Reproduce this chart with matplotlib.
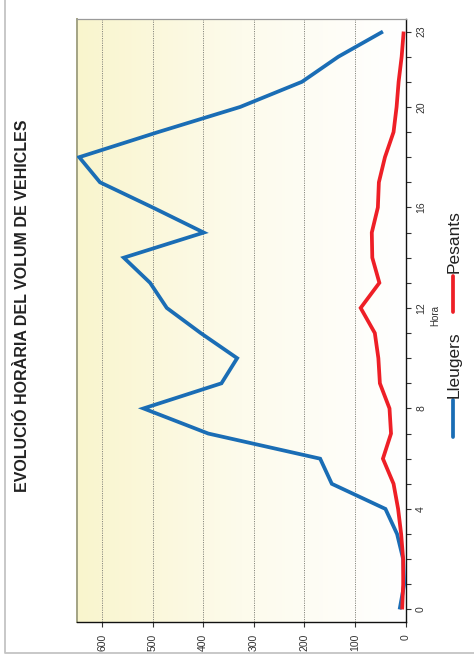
import numpy as np
import matplotlib
matplotlib.use("Agg")
import matplotlib.pyplot as plt
from matplotlib import font_manager
from matplotlib.colors import LinearSegmentedColormap
from matplotlib.lines import Line2D
from matplotlib.ticker import MultipleLocator, FixedLocator

# Hourly traffic volume
hours = list(range(24))
lleugers = [12, 3, 5, 17, 40, 146, 169, 390, 518, 364, 333, 405,
            472, 505, 557, 399, 500, 604, 645, 489, 327, 205, 133, 45]
pesants = [7, 5, 5, 9, 15, 24, 45, 29, 32, 51, 54, 61,
           89, 52, 66, 67, 55, 53, 41, 24, 18, 14, 8, 4]

hour_ticks = [0, 4, 8, 12, 16, 20, 23]
value_ticks = [0, 100, 200, 300, 400, 500, 600]
title = "EVOLUCIÓ HORÀRIA DEL VOLUM DE VEHICLES"
series_names = ["Lleugers", "Pesants"]
series_colors = ["#1a6db5", "#ee1f26"]


def pick_family(*names):
    for n in names:
        try:
            font_manager.findfont(font_manager.FontProperties(family=n),
                                  fallback_to_default=False)
            return n
        except Exception:
            continue
    return "DejaVu Sans"


FAMILY = pick_family("Liberation Sans", "Arial", "DejaVu Sans")
plt.rcParams["font.family"] = [FAMILY, "DejaVu Sans"]

W, H = 474, 662
fig = plt.figure(figsize=(W / 100, H / 100), dpi=100)
fig.patch.set_facecolor("white")


def fx(x):
    return x / W


def fy(y):
    return 1 - y / H


# Axes: value runs right-to-left, hour runs bottom-to-top (chart turned on its side)
left, right, top, bottom = 76.7, 405.7, 19.0, 622.0
ax = fig.add_axes([fx(left), fy(bottom), fx(right) - fx(left), fy(top) - fy(bottom)])

# soft yellow-to-white background
cmap = LinearSegmentedColormap.from_list("bg", ["#ffffff", "#fdfbec", "#f9f5cd"])
grad = np.linspace(0, 1, 256)[None, :]
ax.imshow(grad, extent=(0, 650, -0.5, 23.5), aspect="auto", cmap=cmap,
          zorder=0, interpolation="bilinear")

# dotted grid at the value ticks
for v in value_ticks[1:]:
    ax.axvline(v, color="#8a8a80", lw=0.7, ls=(0, (1.2, 1.2)), zorder=1)

ax.plot(lleugers, hours, color=series_colors[0], lw=2.7,
        solid_joinstyle="miter", solid_capstyle="butt", zorder=3)
ax.plot(pesants, hours, color=series_colors[1], lw=2.7,
        solid_joinstyle="miter", solid_capstyle="butt", zorder=4)

ax.set_xlim(650, 0)
ax.set_ylim(-0.5, 23.5)

# value axis along the bottom
ax.xaxis.set_major_locator(FixedLocator(value_ticks))
ax.set_xticklabels([str(v) for v in value_ticks], rotation=90,
                   fontsize=7.5, color="#333333")
ax.tick_params(axis="x", direction="out", length=3.5, width=0.8,
               color="#333333", pad=5)

# hour axis on the right
ax.yaxis.tick_right()
ax.yaxis.set_major_locator(FixedLocator(hour_ticks))
ax.yaxis.set_minor_locator(MultipleLocator(1))
ax.set_yticklabels([str(h) for h in hour_ticks], rotation=90, va="center",
                   fontsize=7.5, color="#333333")
ax.tick_params(axis="y", which="both", direction="out", length=3.5,
               width=0.8, color="#333333", pad=4)

ax.spines["right"].set_color("#111111")
ax.spines["right"].set_linewidth(1.0)
ax.spines["bottom"].set_color("#111111")
ax.spines["bottom"].set_linewidth(1.0)
ax.spines["top"].set_color("#9a9a9a")
ax.spines["top"].set_linewidth(0.9)
ax.spines["left"].set_color("#a3a384")
ax.spines["left"].set_linewidth(1.4)

# axis name for hours
fig.text(fx(435), fy(316), "Hora", rotation=90, ha="center", va="center",
         fontsize=7, color="#333333")

# title
fig.text(fx(23), fy(306), title, rotation=90, ha="center", va="center",
         fontsize=11.5, fontweight="bold", color="#222222")

# legend drawn along the right edge
legend_items = [
    (series_names[0], series_colors[0], 437, 400, 398),
    (series_names[1], series_colors[1], 312, 276, 273),
]
for name, color, y0, y1, ytxt in legend_items:
    fig.add_artist(Line2D([fx(453), fx(453)], [fy(y0), fy(y1)],
                          transform=fig.transFigure, color=color, lw=2.7,
                          solid_capstyle="round"))
    fig.text(fx(454), fy(ytxt), name, rotation=90, ha="center", va="bottom",
             fontsize=12.5, color="#222222")

# page frame
fig.add_artist(Line2D([fx(5), fx(5), fx(W)], [fy(0), fy(653), fy(653)],
                      transform=fig.transFigure, color="#c4c4c4", lw=1.3))

fig.savefig("out.png", dpi=100)
